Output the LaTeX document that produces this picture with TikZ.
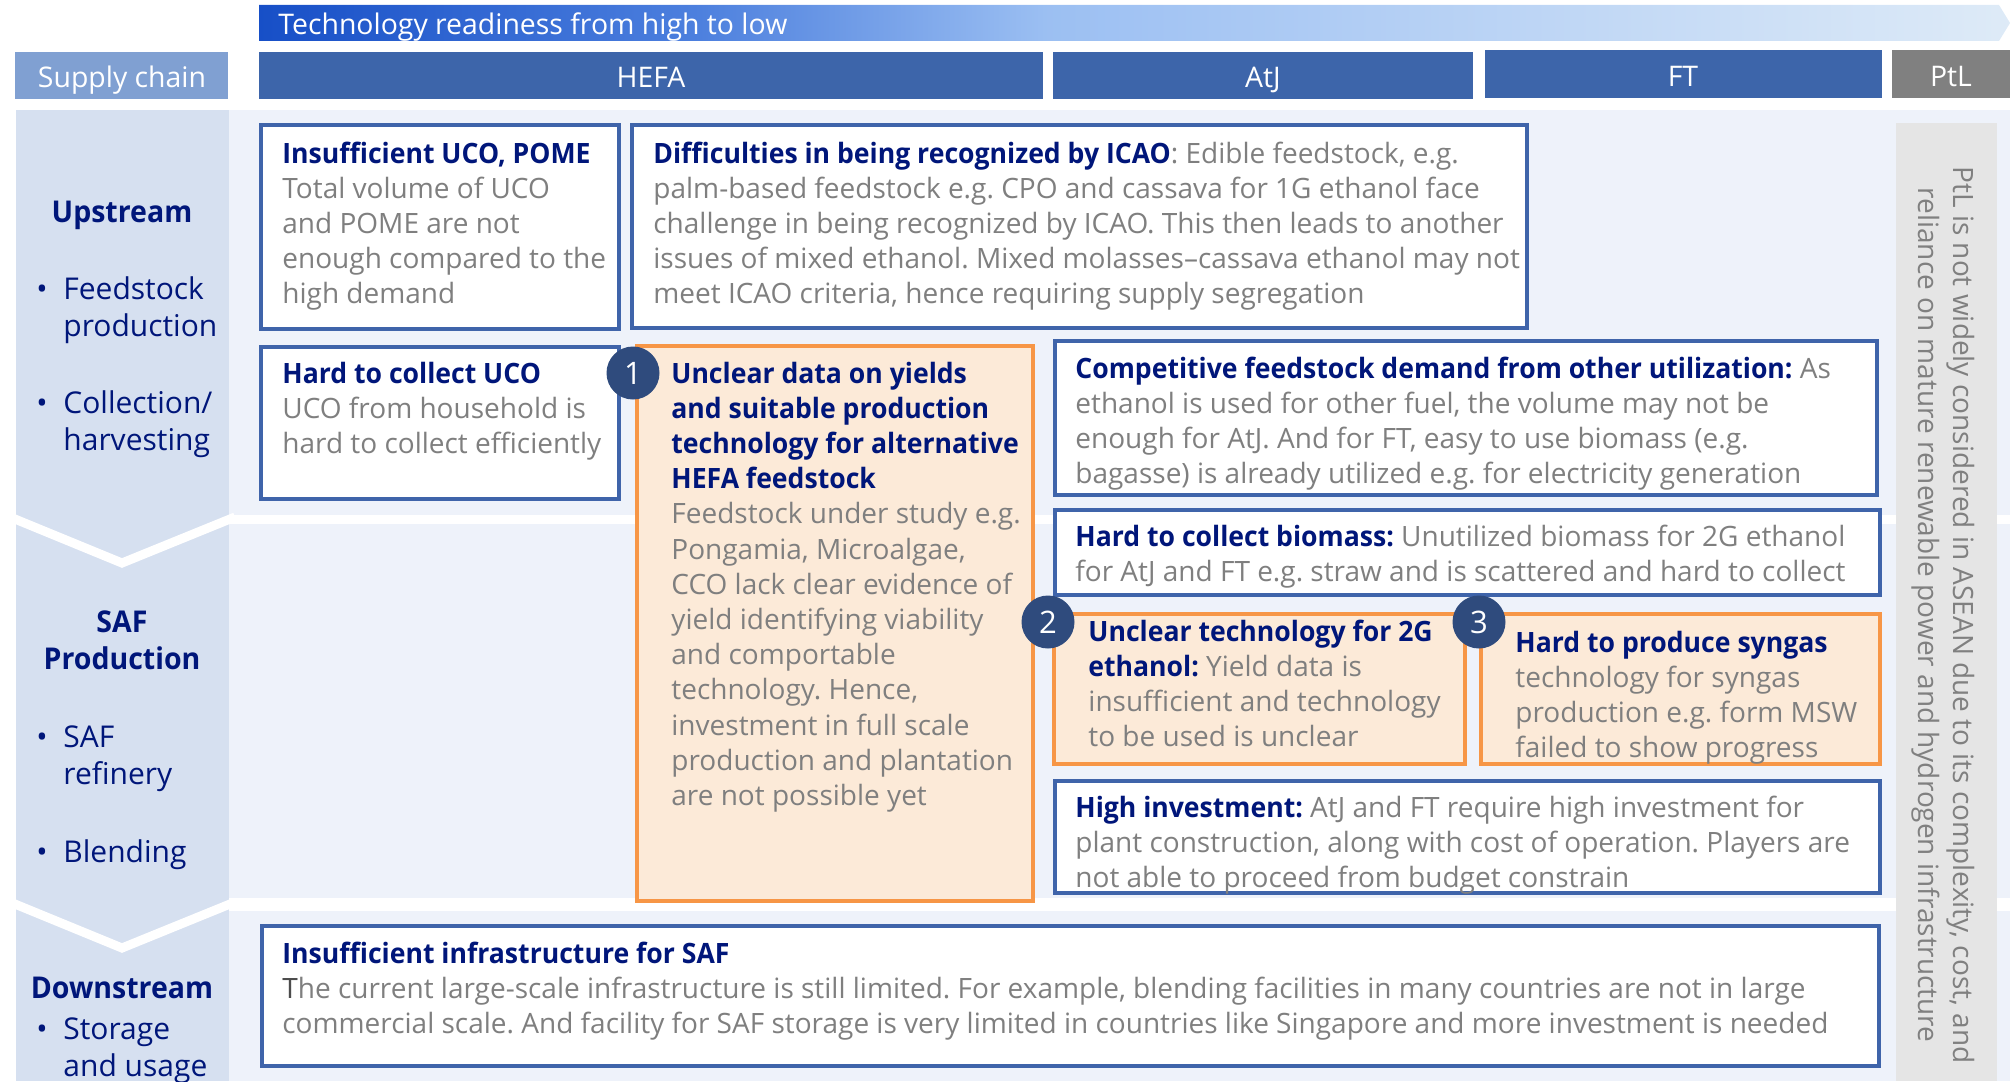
\documentclass[tikz,border=0pt]{standalone}
\usepackage{fontspec}
\setmainfont{Open Sans}
\newfontfamily\semib{Open Sans}[FakeStretch=0.95]
\usetikzlibrary{fit}
\frenchspacing

\definecolor{hdrblue}{RGB}{61,101,170}
\definecolor{supplyblue}{RGB}{128,160,210}
\definecolor{ptlgrey}{RGB}{128,128,128}
\definecolor{bodybg}{RGB}{238,242,250}
\definecolor{colbg}{RGB}{214,224,240}
\definecolor{boxblue}{RGB}{63,100,170}
\definecolor{navy}{RGB}{0,22,122}
\definecolor{txtgrey}{RGB}{127,127,127}
\definecolor{orfill}{RGB}{252,234,216}
\definecolor{orline}{RGB}{247,150,70}
\definecolor{numblue}{RGB}{47,75,125}
\definecolor{ptlbox}{RGB}{229,229,229}

% readiness bar: the path is mapped onto 25bp..75bp of the shading
\pgfdeclarehorizontalshading{readiness}{100bp}{%
  rgb(0bp)=(0.09,0.31,0.78);
  rgb(25bp)=(0.09,0.31,0.78);
  rgb(37.5bp)=(0.30,0.50,0.87);
  rgb(47.5bp)=(0.61,0.75,0.95);
  rgb(75bp)=(0.87,0.92,0.97);
  rgb(100bp)=(0.87,0.92,0.97)}

\newcommand\bodyfont{\fontsize{14}{17.6}\selectfont}
\newcommand\leftfont{\fontsize{15}{18.8}\selectfont}
\newcommand\hdrfont{\fontsize{14.2}{17}\selectfont}
\newcommand\numfont{\fontsize{15.5}{18}\selectfont}
\newcommand\hd[1]{{\semib\bfseries\color{navy}#1}}

\begin{document}
% multi-line nodes are placed by the baseline of their LAST line (anchor=base)
\begin{tikzpicture}[x=0.5pt,y=-0.5pt,
  bluebox/.style={draw=boxblue, line width=1.75pt, fill=white, inner sep=0pt},
  orangebox/.style={draw=orline, line width=1.75pt, fill=orfill, inner sep=0pt},
  hdrbox/.style={inner sep=0pt},
  hdrtxt/.style={inner sep=0pt, anchor=base, text=white, font=\hdrfont},
  body/.style={inner sep=0pt, anchor=base west, align=left, font=\bodyfont, text=txtgrey},
  lefttxt/.style={inner sep=0pt, anchor=base west, align=left, font=\leftfont, text=navy},
  lefthead/.style={inner sep=0pt, anchor=base, align=center, font=\leftfont\semib\bfseries, text=navy},
  bullet/.style={inner sep=0pt, anchor=base, font=\leftfont, text=navy},
  num/.style={circle, fill=numblue, text=white, inner sep=0pt, minimum size=26.5pt, font=\numfont},
]
\useasboundingbox (0,0) rectangle (2012,1081);

% ---- readiness arrow ----
\shade[shading=readiness] (259,5) -- (1999,5) -- (2010,23) -- (1999,41) -- (259,41) -- cycle;
\node[hdrtxt, anchor=base west] (ready) at (278,35) {Technology readiness from high to low};

% ---- header row ----
\node[hdrbox, fill=supplyblue, fit={(15,52) (228,99)}] (hsupply) {};
\node[hdrbox, fill=hdrblue, fit={(259,52) (1043,99)}] (hhefa) {};
\node[hdrbox, fill=hdrblue, fit={(1053,52) (1473,99)}] (hatj) {};
\node[hdrbox, fill=hdrblue, fit={(1485,50) (1882,98)}] (hft) {};
\node[hdrbox, fill=ptlgrey, fit={(1892,50) (2010,98)}] (hptl) {};
\node[hdrtxt] (tsupply) at (122,88) {Supply chain};
\node[hdrtxt] (thefa) at (651,88) {HEFA};
\node[hdrtxt] (tatj) at (1263,88) {AtJ};
\node[hdrtxt] (tft) at (1683,87) {FT};
\node[hdrtxt] (tptl) at (1951,87) {PtL};

% ---- backgrounds ----
\fill[bodybg] (229,110) rectangle (2010,1081);
\fill[white] (229,515) rectangle (2012,524);
\fill[white] (229,898) rectangle (2012,911);
\fill[colbg] (16,110) rectangle (229,1081);
\draw[white, line width=4.5pt, line join=miter] (10,517) -- (122,563) -- (235,517);
\draw[white, line width=4.5pt, line join=miter] (10,902) -- (122,948) -- (235,902);
\node[hdrbox, fill=ptlbox, fit={(1896,123) (1997,1081)}] (ptlcol) {};

% ---- supply chain stages ----
\node[lefthead] (up) at (122,222) {Upstream};
\node[bullet] (b1) at (42,299) {\textbullet};
\node[lefttxt] (feed) at (63,336.6) {Feedstock\\production};
\node[bullet] (b2) at (42,413) {\textbullet};
\node[lefttxt] (coll) at (63,450.6) {Collection/\\harvesting};
\node[lefthead] (safp) at (122,669.6) {SAF\\Production};
\node[bullet] (b3) at (42,747) {\textbullet};
\node[lefttxt] (refi) at (63,784.6) {SAF\\refinery};
\node[bullet] (b4) at (42,862) {\textbullet};
\node[lefttxt] (blend) at (63,862) {Blending};
\node[lefthead] (down) at (122,998) {Downstream};
\node[bullet] (b5) at (42,1039) {\textbullet};
\node[lefttxt] (stor) at (63,1076.6) {Storage\\and usage};

% ---- issue boxes ----
\node[bluebox, fit={(261,125) (619,329)}] (boxA) {};
\node[bluebox, fit={(261,347) (619,499)}] (boxB) {};
\node[bluebox, fit={(632,125) (1527,328)}] (boxC) {};
\node[orangebox, fit={(637,346) (1033,901)}] (boxO1) {};
\node[bluebox, fit={(1055,341) (1877,495)}] (boxD) {};
\node[bluebox, fit={(1055,510) (1880,595)}] (boxE) {};
\node[orangebox, fit={(1054,614) (1465,764)}] (boxO2) {};
\node[orangebox, fit={(1481,614) (1880,764)}] (boxO3) {};
\node[bluebox, fit={(1055,781) (1880,893)}] (boxH) {};
\node[bluebox, fit={(262,926) (1879,1066)}] (boxI) {};

\node[body] (txtA) at (282,303.8) {\hd{Insufficient UCO, POME}\\Total volume of UCO\\and POME are not\\enough compared to the\\high demand};
\node[body] (txtB) at (282,453.4) {\hd{Hard to collect UCO}\\UCO from household is\\hard to collect efficiently};
\node[body] (txtC) at (653,303.8) {\hd{Difficulties in being recognized by ICAO}: Edible feedstock, e.g.\\palm-based feedstock e.g. CPO and cassava for 1G ethanol face\\challenge in being recognized by ICAO. This then leads to another\\issues of mixed ethanol. Mixed molasses--cassava ethanol may not\\meet ICAO criteria, hence requiring supply segregation};
\node[body] (txtO1) at (671,805.4) {\hd{Unclear data on yields}\\\hd{and suitable production}\\\hd{technology for alternative}\\\hd{HEFA feedstock}\\Feedstock under study e.g.\\Pongamia, Microalgae,\\CCO lack clear evidence of\\yield identifying viability\\and comportable\\technology. Hence,\\investment in full scale\\production and plantation\\are not possible yet};
\node[body] (txtD) at (1075,483.6) {\hd{Competitive feedstock demand from other utilization:} As\\ethanol is used for other fuel, the volume may not be\\enough for AtJ. And for FT, easy to use biomass (e.g.\\bagasse) is already utilized e.g. for electricity generation};
\node[body] (txtE) at (1075,581.2) {\hd{Hard to collect biomass:} Unutilized biomass for 2G ethanol\\for AtJ and FT e.g. straw and is scattered and hard to collect};
\node[body] (txtO2) at (1088,746.6) {\hd{Unclear technology for 2G}\\\hd{ethanol:} Yield data is\\insufficient and technology\\to be used is unclear};
\node[body] (txtO3) at (1515,757.6) {\hd{Hard to produce syngas}\\technology for syngas\\production e.g. form MSW\\failed to show progress};
\node[body] (txtH) at (1075,887.4) {\hd{High investment:} AtJ and FT require high investment for\\plant construction, along with cost of operation. Players are\\not able to proceed from budget constrain};
\node[body] (txtI) at (282,1033.4) {\hd{Insufficient infrastructure for SAF}\\{\color{gray!60!black}T}he current large-scale infrastructure is still limited. For example, blending facilities in many countries are not in large\\commercial scale. And facility for SAF storage is very limited in countries like Singapore and more investment is needed};

% ---- numbered markers ----
\node[num] (n1) at (633,373) {1};
\node[num] (n2) at (1048,622) {2};
\node[num] (n3) at (1479,622) {3};

% ---- PtL note ----
\node[inner sep=0pt, rotate=-90, align=center, font=\bodyfont, text=ptlgrey] (ptlnote) at (1943,615)
  {PtL is not widely considered in ASEAN due to its complexity, cost, and\\reliance on mature renewable power and hydrogen infrastructure};
\end{tikzpicture}
\end{document}
